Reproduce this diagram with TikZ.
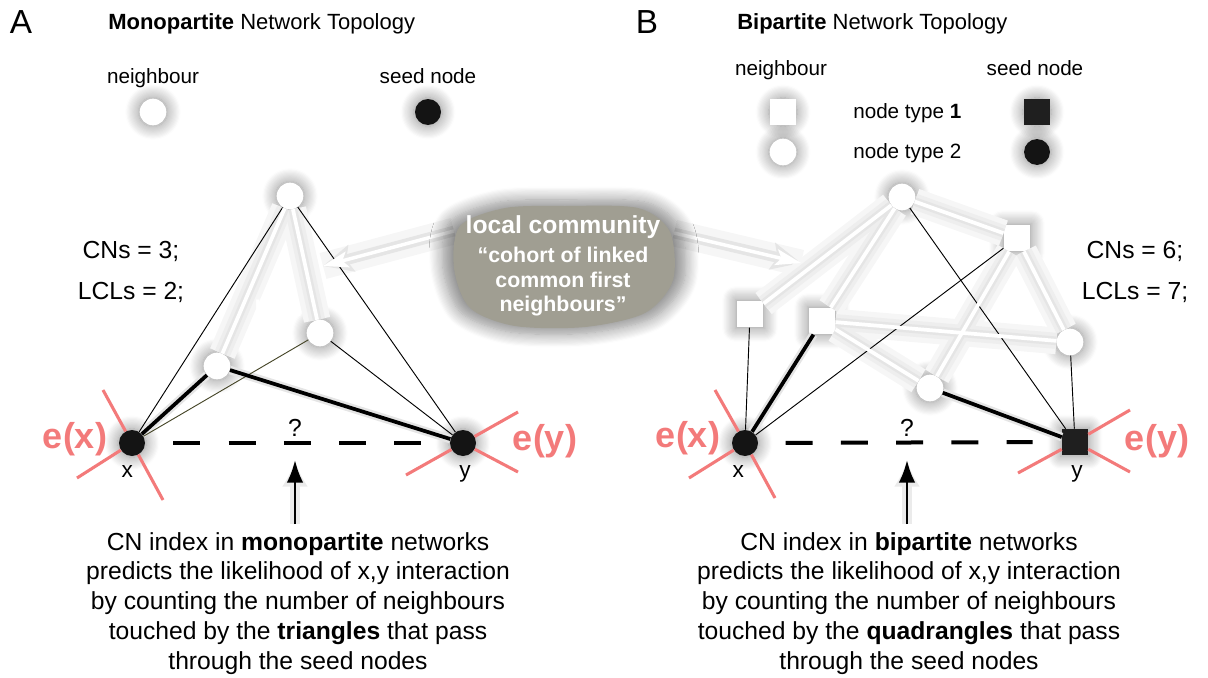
\documentclass[tikz,border=0pt]{standalone}
\usepackage{fontspec}
\setmainfont{Liberation Sans}
\usetikzlibrary{arrows.meta,shadows.blur,positioning}
\definecolor{crossred}{RGB}{243,122,122}
\definecolor{commgray}{RGB}{160,158,146}
\definecolor{olivedge}{RGB}{70,70,40}

\begin{document}
\begin{tikzpicture}[x=0.75pt,y=0.75pt,yscale=-1,xscale=1,
  glow/.style={blur shadow={shadow xshift=0pt,shadow yshift=0pt,shadow blur radius=9pt,shadow blur steps=12,shadow opacity=45,shadow scale=1.1}},
  nbrbase/.style={circle,fill=white,minimum size=20pt,inner sep=0pt},
  nbrsqbase/.style={rectangle,fill=white,minimum size=20pt,inner sep=0pt},
  seedbase/.style={circle,fill=black!92,minimum size=19.5pt,inner sep=0pt},
  seedsqbase/.style={rectangle,fill=black!88,minimum size=19.5pt,inner sep=0pt},
  nbr/.style={nbrbase,glow},
  nbrsq/.style={nbrsqbase,glow},
  seed/.style={seedbase,glow},
  seedsq/.style={seedsqbase,glow},
  thinedge/.style={black,line width=0.7pt},
  thickedge/.style={black,line width=2.8pt},
  lcledge/.style={white,line width=2.8pt},
  haloA/.style={black!3.5,line width=20pt},
  haloB/.style={black!6.5,line width=12pt},
  haloC/.style={black!10,line width=6.5pt},
  cross/.style={crossred,line width=2.3pt},
  dashline/.style={black,line width=3pt,dash pattern=on 20.25pt off 21.2pt},
  askarr/.style={black,line width=2.2pt,-{Latex[length=17pt,width=12.5pt]}},
  askhalo/.style={black!8,line width=8pt,-{Latex[length=20pt,width=20pt]}},
  commarr/.style={white,line width=2.6pt,-{Stealth[length=19pt,width=12pt,inset=4pt]}},
  commhalo/.style={black!10,line width=8pt,-{Stealth[length=22pt,width=20pt,inset=4pt]}},
  ttl/.style={font=\fontsize{16.5}{20}\selectfont,inner sep=0pt},
  panel/.style={font=\fontsize{25}{30}\selectfont,inner sep=0pt},
  legtxt/.style={font=\fontsize{15.5}{18}\selectfont,inner sep=0pt},
  cntxt/.style={font=\fontsize{18.5}{22}\selectfont,inner sep=0pt},
  xytxt/.style={font=\fontsize{17}{20}\selectfont,inner sep=0pt},
  etxt/.style={font=\bfseries\fontsize{27}{30}\selectfont,text=crossred,inner sep=0pt},
  lcltxt/.style={font=\bfseries\fontsize{18}{21}\selectfont,text=white,inner sep=0pt},
  bottxt/.style={font=\fontsize{18.5}{22.3}\selectfont,align=center,inner sep=0pt,anchor=north}
]
\useasboundingbox (0,0) rectangle (1208,678);

% titles
\node[panel,anchor=base] (pa) at (21,33) {A};
\node[ttl,anchor=base west] (ta) at (108,30) {\textbf{Monopartite} Network Topology};
\node[panel,anchor=base] (pb) at (647,33) {B};
\node[ttl,anchor=base west] (tb) at (737,30) {\textbf{Bipartite} Network Topology};

% legend A
\node[legtxt,anchor=base] (lnbt) at (153,83) {neighbour};
\node[nbr] (lnb) at (153,112) {};
\node[legtxt,anchor=base] (lsdt) at (428,83) {seed node};
\node[seed] (lsd) at (428,112) {};

% legend B
\foreach \p in {(783,112),(783,152),(1037,112),(1037,152)}
  \fill[white,glow] \p circle (13);
\node[legtxt,anchor=base] (rnbt) at (781,75) {neighbour};
\node[nbrsqbase] (rnb1) at (783,112) {};
\node[nbrbase] (rnb2) at (783,152) {};
\node[legtxt,anchor=base west] (rty1) at (853,118) {node type \textbf{1}};
\node[legtxt,anchor=base west] (rty2) at (853,158) {node type 2};
\node[legtxt,anchor=base] (rsdt) at (1035,75) {seed node};
\node[seedsqbase] (rsd1) at (1037,112) {};
\node[seedbase] (rsd2) at (1037,152) {};

% monopartite network
\node[nbr] (la) at (290,196) {};
\node[nbr] (lb) at (320,333) {};
\node[nbr] (lc) at (217,366) {};
\node[seed] (lx) at (132,443) {};
\node[seed] (ly) at (463,443) {};

% bipartite network
\node[nbr] (ra) at (902,197) {};
\node[nbrsq] (rb) at (1017,238) {};
\node[nbrsq] (rc) at (750,314) {};
\node[nbrsq] (rd) at (822,321) {};
\node[nbr] (re) at (1070,342) {};
\node[nbr] (rf) at (930,388) {};
\node[seed] (rx) at (745,443) {};
\node[seedsq] (ry) at (1075,442) {};

% bubble arrows (halo)
\coordinate (cl0) at (454,231);
\coordinate (cl1) at (323,266);
\coordinate (cr0) at (674,233);
\coordinate (cr1) at (801,263);
\draw[haloA] (cl0) -- (cl1);
\draw[haloA] (cr0) -- (cr1);
\draw[commhalo] (cl0) -- (cl1);
\draw[commhalo] (cr0) -- (cr1);

% halos
\foreach \a/\b in {la/lc,la/lb,ra/rc,ra/rd,ra/rb,rb/rf,rb/re,rd/re,rd/rf}
  \draw[haloA] (\a) -- (\b);
\foreach \a/\b in {la/lc,la/lb,ra/rc,ra/rd,ra/rb,rb/rf,rb/re,rd/re,rd/rf}
  \draw[haloB] (\a) -- (\b);
\foreach \a/\b in {la/lc,la/lb,ra/rc,ra/rd,ra/rb,rb/rf,rb/re,rd/re,rd/rf,lx/lc,lc/ly,rx/rd,rf/ry}
  \draw[haloC] (\a) -- (\b);

% labels
\node[xytxt,below=6.5pt of lx,xshift=-3.5pt] (lxt) {x};
\node[xytxt,below=6.5pt of ly,xshift=1.5pt] (lyt) {y};
\node[etxt] (lex) at (75,439) {e(x)};
\node[etxt] (ley) at (545,441) {e(y)};
\node[lcltxt] (llcl) at (278,308) {LCL};
\node[cntxt] (lcn) at (131,251) {CNs = 3;};
\node[cntxt] (lcl) at (131,292) {LCLs = 2;};
\node[cntxt] (lq) at (295,428) {?};
\node[xytxt,below=6.5pt of rx,xshift=-5pt] (rxt) {x};
\node[xytxt,below=7.5pt of ry,xshift=1.5pt] (ryt) {y};
\node[etxt] (rex) at (688,438) {e(x)};
\node[etxt] (rey) at (1157,441) {e(y)};
\node[lcltxt] (rlcl) at (913,272) {LCL};
\node[cntxt] (rcn) at (1135,251) {CNs = 6;};
\node[cntxt] (rcl) at (1135,292) {LCLs = 7;};
\node[cntxt] (rq) at (907,428) {?};

% crossed seeds
\draw[cross] (103,390) -- (lx);
\draw[cross] (lx) -- (163,500);
\draw[cross] (77,478) -- (lx);
\draw[cross] (406,475) -- (ly);
\draw[cross] (ly) -- (518,412);
\draw[cross] (ly) -- (518,472);
\draw[cross] (715,390) -- (rx);
\draw[cross] (rx) -- (775,498);
\draw[cross] (689,478) -- (rx);
\draw[cross] (1018,473) -- (ry);
\draw[cross] (ry) -- (1130,410);
\draw[cross] (ry) -- (1130,472);

% links
\draw[dashline,shorten <=21pt,shorten >=21pt] (lx) -- (ly);
\draw[dashline,shorten <=20.5pt,shorten >=21.75pt] (rx) -- (ry);
\foreach \a/\b in {lx/la,lb/ly,la/ly,rx/rc,rx/rb,ra/ry,re/ry}
  \draw[thinedge] (\a) -- (\b);
\draw[thinedge,olivedge] (lx) -- (lb);
\foreach \a/\b in {lx/lc,lc/ly,rx/rd,rf/ry}
  \draw[thickedge] (\a) -- (\b);
\foreach \a/\b in {la/lc,la/lb,ra/rc,ra/rd,ra/rb,rb/rf,rb/re,rd/re,rd/rf}
  \draw[lcledge] (\a) -- (\b);

% bottom texts
\node[bottxt] (lbot) at (298,532) {CN index in \textbf{monopartite} networks\\
  predicts the likelihood of x,y interaction\\
  by counting the number of neighbours\\
  touched by the \textbf{triangles} that pass\\
  through the seed nodes};
\node[bottxt] (rbot) at (909,532) {CN index in \textbf{bipartite} networks\\
  predicts the likelihood of x,y interaction\\
  by counting the number of neighbours\\
  touched by the \textbf{quadrangles} that pass\\
  through the seed nodes};
\coordinate (lask) at (295,460);
\coordinate (rask) at (907,460);
\draw[askhalo] (lbot.north -| lask) ++(0,-8) -- (lask);
\draw[askhalo] (rbot.north -| rask) ++(0,-8) -- (rask);
\draw[askarr] (lbot.north -| lask) ++(0,-8) -- (lask);
\draw[askarr] (rbot.north -| rask) ++(0,-8) -- (rask);

% community bubble
\draw[commarr] (cl0) -- (cl1);
\draw[commarr] (cr0) -- (cr1);
\fill[commgray,glow] plot[smooth cycle] coordinates {(565,206) (638,208) (670,232) (673,280) (645,313) (585,327) (515,326) (470,308) (454,268) (460,226) (505,208)};
\node[font=\bfseries\fontsize{16}{18.5}\selectfont,text=white,align=center,inner sep=0pt] (comm) at (563,266)
  {{\fontsize{18.5}{20}\selectfont local community}\\[3pt] “cohort of linked\\ common first\\ neighbours”};
\end{tikzpicture}
\end{document}
